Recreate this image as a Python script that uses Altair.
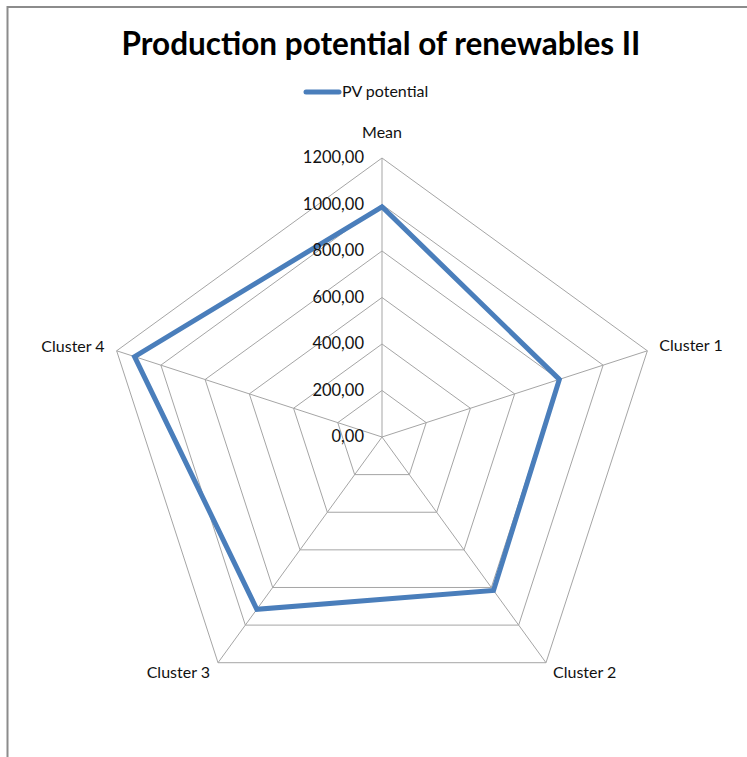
import altair as alt
import pandas as pd

# --- chart values -----------------------------------------------------------
categories = ["Mean", "Cluster 1", "Cluster 2", "Cluster 3", "Cluster 4"]
pv_potential = [990, 802, 816, 916, 1119]
series_name = "PV potential"
ring_values = [200, 400, 600, 800, 1000, 1200]
tick_values = [0, 200, 400, 600, 800, 1000, 1200]
tick_labels = ["0,00", "200,00", "400,00", "600,00", "800,00", "1000,00", "1200,00"]
title_text = "Production potential of renewables II"

# --- styling ----------------------------------------------------------------
FONT = "Lato"
LINE_COLOR = "#4A7EBB"
GRID_COLOR = "#A5A5A5"
TEXT_COLOR = "#111111"
W, H = 747, 757
CX, CY = 382, 437          # pixel centre of the radar
R_PX = 279                 # pixel radius of the outer ring
R_MAX = 1200
S = R_PX / R_MAX
N = len(categories)

xscale = alt.Scale(domain=[-CX / S, (W - CX) / S], nice=False, zero=False)
yscale = alt.Scale(domain=[-(H - CY) / S, CY / S], nice=False, zero=False)

angle_expr = f"PI/2 - datum.k * 2 * PI / {N}"

# polyline through the spokes; walks one extra segment so every corner is a join
series_rows = []
for step in range(N + 2):
    k = step % N
    series_rows.append({"step": step, "k": k, "category": categories[k],
                        "value": pv_potential[k], "series": series_name})
series_df = pd.DataFrame(series_rows)

grid_rows = []
for rv in ring_values:
    for step in range(N + 1):
        grid_rows.append({"ring": rv, "step": step, "k": step % N, "value": rv})
grid_df = pd.DataFrame(grid_rows)

spoke_df = pd.DataFrame({"k": list(range(N)), "category": categories})
tick_df = pd.DataFrame({"value": tick_values, "label": tick_labels})


def polar(chart, r_field="value"):
    return chart.transform_calculate(
        angle=angle_expr
    ).transform_calculate(
        px=f"datum.{r_field} * cos(datum.angle)",
        py=f"datum.{r_field} * sin(datum.angle)",
    )


grid = polar(alt.Chart(grid_df)).mark_line(
    color=GRID_COLOR, strokeWidth=1
).encode(
    x=alt.X("px:Q", scale=xscale, axis=None),
    y=alt.Y("py:Q", scale=yscale, axis=None),
    detail="ring:N",
    order="step:Q",
)

spokes = alt.Chart(spoke_df).transform_calculate(
    angle=angle_expr
).transform_calculate(
    px=f"{R_MAX} * cos(datum.angle)",
    py=f"{R_MAX} * sin(datum.angle)",
    z="0",
).mark_rule(color=GRID_COLOR, strokeWidth=1).encode(
    x=alt.X("z:Q", scale=xscale, axis=None),
    y=alt.Y("z:Q", scale=yscale, axis=None),
    x2="px:Q",
    y2="py:Q",
)

series = polar(alt.Chart(series_df)).mark_line(
    color=LINE_COLOR, strokeWidth=5, strokeJoin="miter"
).encode(
    x=alt.X("px:Q", scale=xscale, axis=None),
    y=alt.Y("py:Q", scale=yscale, axis=None),
    order="step:Q",
)

ticks = alt.Chart(tick_df).transform_calculate(z="0").mark_text(
    font=FONT, fontSize=16.5, align="right", baseline="middle", dx=-18, color=TEXT_COLOR
).encode(
    x=alt.X("z:Q", scale=xscale, axis=None),
    y=alt.Y("value:Q", scale=yscale, axis=None),
    text="label:N",
)

# category labels placed just outside the outer ring
label_style = {
    "Mean": dict(align="center", dx=0, dy=-25),
    "Cluster 1": dict(align="left", dx=12, dy=-5),
    "Cluster 2": dict(align="left", dx=7, dy=10),
    "Cluster 3": dict(align="right", dx=-8, dy=10),
    "Cluster 4": dict(align="right", dx=-12, dy=-4),
}
label_layers = []
for cat, st in label_style.items():
    label_layers.append(
        alt.Chart(spoke_df).transform_filter(
            alt.datum.category == cat
        ).transform_calculate(
            angle=angle_expr
        ).transform_calculate(
            px=f"{R_MAX} * cos(datum.angle)",
            py=f"{R_MAX} * sin(datum.angle)",
        ).mark_text(
            font=FONT, fontSize=16, baseline="middle", color=TEXT_COLOR, **st
        ).encode(
            x=alt.X("px:Q", scale=xscale, axis=None),
            y=alt.Y("py:Q", scale=yscale, axis=None),
            text="category:N",
        )
    )

title = alt.Chart(pd.DataFrame({"t": [title_text]})).mark_text(
    font=FONT, fontSize=31.5, fontWeight="bold", align="center",
    baseline="alphabetic", color="#000000"
).encode(x=alt.value(381), y=alt.value(55), text="t:N")

legend_df = pd.DataFrame({"series": [series_name]})
legend_line = alt.Chart(legend_df).mark_rule(
    color=LINE_COLOR, strokeWidth=5, strokeCap="round"
).encode(x=alt.value(306), x2=alt.value(339), y=alt.value(92))
legend_text = alt.Chart(legend_df).mark_text(
    font=FONT, fontSize=16, align="left", baseline="middle", color=TEXT_COLOR
).encode(x=alt.value(342), y=alt.value(92), text="series:N")

# chart-area frame (top and left edges)
frame_top = alt.Chart(legend_df).mark_rule(color="#8C8C8C", strokeWidth=2).encode(
    x=alt.value(7), x2=alt.value(W), y=alt.value(7)
)
frame_left = alt.Chart(legend_df).mark_rule(color="#8C8C8C", strokeWidth=2).encode(
    x=alt.value(7.5), y=alt.value(6), y2=alt.value(H)
)

chart = alt.layer(
    frame_top, frame_left, grid, spokes, series, ticks, *label_layers,
    title, legend_line, legend_text,
).properties(
    width=W, height=H, padding=0, autosize=alt.AutoSizeParams(type="none"),
    background="white",
).configure_view(stroke=None)

chart.save("out.html", embed_options={"renderer": "svg", "actions": False})
